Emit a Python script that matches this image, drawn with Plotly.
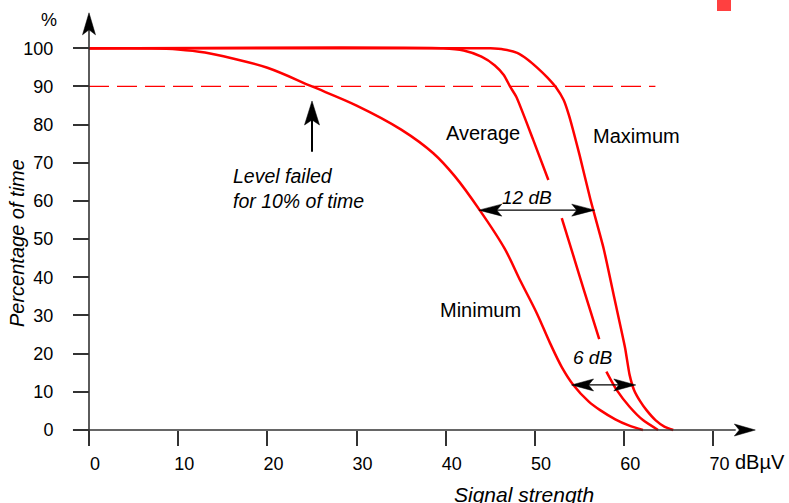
import plotly.graph_objects as go

# ---------------- data ----------------
min_x = [0, 7, 10, 13, 16, 20, 25, 30, 35, 38.6, 41, 43.8, 46.6, 48.4, 50.2, 51.7, 53, 54.3, 56, 57.3, 59, 60.5, 62.1]
min_y = [100, 100, 99.7, 98.9, 97.4, 94.9, 90, 85.0, 78.7, 72.5, 66.5, 57.6, 47.5, 38.9, 30.6, 22.7, 16.5, 11.8, 7.5, 5.2, 2.8, 1.2, 0]

avg_x = [0, 39.7, 42, 44, 45.5, 46.5, 47.2, 47.9, 49.8, 51.5, None, 53.0, 54.1, 55.5, 57.2, None, 58.0, 59.15, 60.6, 62.1, 63.8]
avg_y = [100, 100, 99.4, 97.8, 95.5, 93, 90, 87.3, 76, 65.5, None, 55.5, 47.2, 36.5, 23.8, None, 15.3, 10.5, 6.1, 2.6, 0]

max_x = [0, 45, 46.5, 48, 49.2, 50.3, 51.4, 52.4, 53.2, 53.8, 55, 56.2, 57.7, 58.9, 60.1, 60.6, 61.1, 61.8, 62.5, 63.5, 64.5, 65.5]
max_y = [100, 100, 99.7, 98.8, 97, 94.8, 92.3, 89.6, 86.5, 82.5, 72, 60.5, 47.5, 34.5, 21.5, 14.5, 10.5, 7.5, 5.2, 2.6, 0.9, 0]

level_x = [0, 63.5]
level_y = [90, 90]

x_ticks = [0, 10, 20, 30, 40, 50, 60, 70]
y_ticks = [0, 10, 20, 30, 40, 50, 60, 70, 80, 90, 100]

# --------------- figure ---------------
W, H = 789, 503
RED = "#ff0000"
AX = "#333333"
FONT = "Liberation Sans, Arial, sans-serif"

# axis mapping: x=0 at px 89, 8.92 px/unit ; y=0 at px 430, 3.817 px/unit
xr = [-89 / 8.92, (W - 89) / 8.92]
yr = [-(H - 430) / 3.817, 430 / 3.817]

fig = go.Figure()

for xs, ys, sm in [(min_x, min_y, 1.0), (avg_x, avg_y, 0.6), (max_x, max_y, 0.5)]:
    fig.add_trace(go.Scatter(x=xs, y=ys, mode="lines",
                             line=dict(color=RED, width=2.5, shape="spline", smoothing=sm),
                             connectgaps=False, hoverinfo="skip", showlegend=False))

fig.add_trace(go.Scatter(x=level_x, y=level_y, mode="lines",
                         line=dict(color=RED, width=1.3, dash="20px,8px"),
                         hoverinfo="skip", showlegend=False))

shapes = []
annotations = []


def head(xa, ya, direction, length=22, half=6.5, notch=5, color="black"):
    # arrowhead pointing in direction, tip at (xa, ya) in data coords, size in pixels
    if direction == "right":
        p = f"M0,0 L{-length},{half} L{-length+notch},0 L{-length},{-half} Z"
    elif direction == "left":
        p = f"M0,0 L{length},{half} L{length-notch},0 L{length},{-half} Z"
    else:  # up
        p = f"M0,0 L{half},{-length} L0,{-length+notch} L{-half},{-length} Z"
    shapes.append(dict(type="path", xref="x", yref="y", xsizemode="pixel", ysizemode="pixel",
                       xanchor=xa, yanchor=ya, path=p, fillcolor=color,
                       line=dict(color=color, width=0.5)))


# axes lines with arrows
shapes.append(dict(type="line", xref="x", yref="y", x0=0, x1=0, y0=-3.4, y1=106,
                   line=dict(color=AX, width=1.6)))
head(0, 109.3, "up", length=22, half=6.5, notch=5, color="black")
shapes.append(dict(type="line", xref="x", yref="y", x0=-1.8, x1=72.5, y0=0, y1=0,
                   line=dict(color=AX, width=1.6)))
head(74.7, 0, "right", length=21, half=6, notch=5, color="black")

# "Level failed" arrow
shapes.append(dict(type="line", xref="x", yref="y", x0=25, x1=25, y0=72.9, y1=82,
                   line=dict(color="black", width=2)))
head(25, 86.2, "up", length=24, half=7.5, notch=5)

# 12 dB double arrow
shapes.append(dict(type="line", xref="x", yref="y", x0=44.5, x1=56, y0=57.6, y1=57.6,
                   line=dict(color="black", width=1.3)))
head(43.7, 57.6, "left", length=23, half=6, notch=5)
head(56.7, 57.6, "right", length=23, half=6, notch=5)

# 6 dB double arrow
shapes.append(dict(type="line", xref="x", yref="y", x0=55, x1=60.5, y0=11.8, y1=11.8,
                   line=dict(color="black", width=1.3)))
head(54.1, 11.8, "left", length=22, half=6, notch=5)
head(61.3, 11.8, "right", length=22, half=6, notch=5)

# red square top right
shapes.append(dict(type="rect", xref="paper", yref="paper",
                   x0=717 / W, x1=731 / W, y0=1 - 11 / H, y1=1,
                   fillcolor="#ff4040", line=dict(width=0)))


def txt(x, y, s, size=20, italic=False, xanchor="center", yanchor="middle", align="center"):
    annotations.append(dict(x=x, y=y, xref="x", yref="y", text=s, showarrow=False,
                            xanchor=xanchor, yanchor=yanchor, align=align,
                            font=dict(family=FONT, size=size, color="black",
                                      style="italic" if italic else "normal")))


txt(44.17, 77.8, "Average")
txt(61.4, 77.0, "Maximum")
txt(43.9, 31.4, "Minimum")
txt(49.06, 60.9, "12 dB", size=19, italic=True)
txt(56.45, 19.0, "6 dB", size=19, italic=True)
annotations.append(dict(x=231 / W, y=1 - 188 / H, xref="paper", yref="paper",
                        text="Level failed<br>for 10% of time", showarrow=False,
                        xanchor="left", yanchor="middle", align="left",
                        font=dict(family=FONT, size=19.5, color="black", style="italic")))

annotations.append(dict(x=49 / W, y=1 - 20 / H, xref="paper", yref="paper", text="%",
                        showarrow=False, xanchor="center", yanchor="middle",
                        font=dict(family=FONT, size=18, color="black")))
annotations.append(dict(x=733 / W, y=1 - 462 / H, xref="paper", yref="paper", text="dBµV",
                        showarrow=False, xanchor="left", yanchor="middle",
                        font=dict(family=FONT, size=20, color="black")))
annotations.append(dict(x=17 / W, y=1 - 243 / H, xref="paper", yref="paper",
                        text="Percentage of time", textangle=-90, showarrow=False,
                        xanchor="center", yanchor="middle",
                        font=dict(family=FONT, size=20, color="black", style="italic")))
annotations.append(dict(x=524 / W, y=1 - 481 / H, xref="paper", yref="paper",
                        text="Signal strength", showarrow=False,
                        xanchor="center", yanchor="top",
                        font=dict(family=FONT, size=21, color="black", style="italic")))

fig.update_layout(
    width=W, height=H,
    margin=dict(l=0, r=0, t=0, b=0),
    paper_bgcolor="white", plot_bgcolor="white",
    showlegend=False,
    shapes=shapes, annotations=annotations,
    xaxis=dict(range=xr, anchor="free", position=(H - 430) / H,
               tickmode="array", tickvals=x_ticks, ticktext=[str(v) for v in x_ticks],
               ticks="outside", ticklen=15, tickwidth=1.6, tickcolor=AX,
               showgrid=False, zeroline=False, showline=False,
               ticklabelshift=6, ticklabelstandoff=2,
               tickfont=dict(family=FONT, size=18, color="black"), fixedrange=True),
    yaxis=dict(range=yr, anchor="free", position=89 / W,
               tickmode="array", tickvals=y_ticks, ticktext=[str(v) for v in y_ticks],
               ticks="outside", ticklen=16, tickwidth=1.6, tickcolor=AX,
               showgrid=False, zeroline=False, showline=False,
               ticklabelstandoff=16,
               tickfont=dict(family=FONT, size=18, color="black"), fixedrange=True),
)

fig.write_html("out.html", config={"displayModeBar": False},
               post_script="document.body.style.margin='0';document.body.style.overflow='hidden';")
